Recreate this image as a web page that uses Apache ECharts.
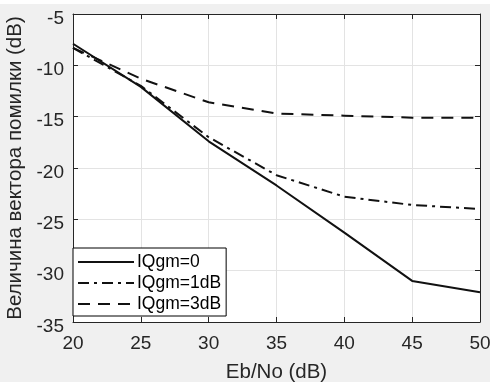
<!DOCTYPE html>
<html>
<head>
<meta charset="utf-8">
<script src="https://cdn.jsdelivr.net/npm/echarts@6/dist/echarts.min.js"></script>
<style>
html,body{margin:0;padding:0;background:#f0f0f0;}
#c{width:490px;height:382px;}
</style>
</head>
<body>
<div id="c"></div>
<script>
const ebno = [20, 25, 30, 35, 40, 45, 50];
const seriesNames = ['IQgm=0', 'IQgm=1dB', 'IQgm=3dB'];
const iq0 = [-7.9, -12.1, -17.4, -21.7, -26.3, -31.0, -32.1];
const iq1 = [-8.3, -12.0, -17.0, -20.7, -22.8, -23.6, -24.0];
const iq3 = [-8.3, -11.3, -13.6, -14.7, -14.9, -15.1, -15.1];
const xTicks = [20, 25, 30, 35, 40, 45, 50];
const yTicks = [-35, -30, -25, -20, -15, -10, -5];
const xTitle = 'Eb/No (dB)';
const yTitle = 'Величина вектора помилки (dB)';

const font = 'Liberation Sans, Arial, sans-serif';
const pairs = v => ebno.map((x, i) => [x, v[i]]);
const lineCol = '#111';

const chart = echarts.init(document.getElementById('c'), null, {renderer: 'canvas'});
const axisCommon = {
  axisLine: {show: true, lineStyle: {color: '#262626', width: 1}},
  axisTick: {show: true, inside: true, length: 5, lineStyle: {color: '#262626'}},
};
chart.setOption({
  backgroundColor: '#f0f0f0',
  animation: false,
  graphic: [{type: 'rect', shape: {x: 0, y: 0, width: 490, height: 4}, style: {fill: '#fff'}, z: -1}],
  grid: {left: 73, right: 10, top: 14, bottom: 60, backgroundColor: '#fff', show: true, borderWidth: 0,
    containLabel: false, outerBoundsMode: 'none'},
  xAxis: [
    Object.assign({
      type: 'value', min: 20, max: 50, interval: 5, position: 'bottom',
      name: xTitle, nameLocation: 'middle', nameGap: 40,
      nameTextStyle: {fontFamily: font, fontSize: 20.5, color: '#262626'},
      axisLabel: {fontFamily: font, fontSize: 19, color: '#262626', margin: 12},
      splitLine: {show: true, lineStyle: {color: '#e3e3e3', width: 1}}
    }, axisCommon),
    Object.assign({
      type: 'value', min: 20, max: 50, interval: 5, position: 'top',
      axisLabel: {show: false}, splitLine: {show: false}
    }, axisCommon)
  ],
  yAxis: [
    Object.assign({
      type: 'value', min: -35, max: -5, interval: 5, position: 'left',
      name: yTitle, nameLocation: 'middle', nameGap: 41,
      nameTextStyle: {fontFamily: font, fontSize: 20.5, color: '#262626'},
      axisLabel: {fontFamily: font, fontSize: 19, color: '#262626', margin: 9,
        formatter: '{s|{value}}', rich: {s: {fontFamily: font, fontSize: 19, color: '#262626', padding: [9, 0, 0, 0]}}},
      splitLine: {show: true, lineStyle: {color: '#e3e3e3', width: 1}}
    }, axisCommon),
    Object.assign({
      type: 'value', min: -35, max: -5, interval: 5, position: 'right',
      axisLabel: {show: false}, splitLine: {show: false}
    }, axisCommon)
  ],
  legend: {
    orient: 'vertical', left: 73, top: 248,
    data: seriesNames,
    itemWidth: 56, itemHeight: 14, itemGap: 3,
    padding: [5, 5, 3, 4],
    backgroundColor: '#fff', borderColor: '#000', borderWidth: 1,
    itemStyle: {opacity: 0, borderWidth: 0},
    textStyle: {fontFamily: font, fontSize: 17.5, color: '#000', padding: [0,0,0,-2]},
    z: 10
  },
  series: [
    {name: seriesNames[0], type: 'line', data: pairs(iq0), symbol: 'none',
      lineStyle: {color: lineCol, width: 2, type: 'solid'}, itemStyle: {color: lineCol}},
    {name: seriesNames[1], type: 'line', data: pairs(iq1), symbol: 'none',
      lineStyle: {color: lineCol, width: 2, type: [11, 5, 3, 5]}, itemStyle: {color: lineCol}},
    {name: seriesNames[2], type: 'line', data: pairs(iq3), symbol: 'none',
      lineStyle: {color: lineCol, width: 2, type: [12, 8]}, itemStyle: {color: lineCol}}
  ]
});
</script>
</body>
</html>
